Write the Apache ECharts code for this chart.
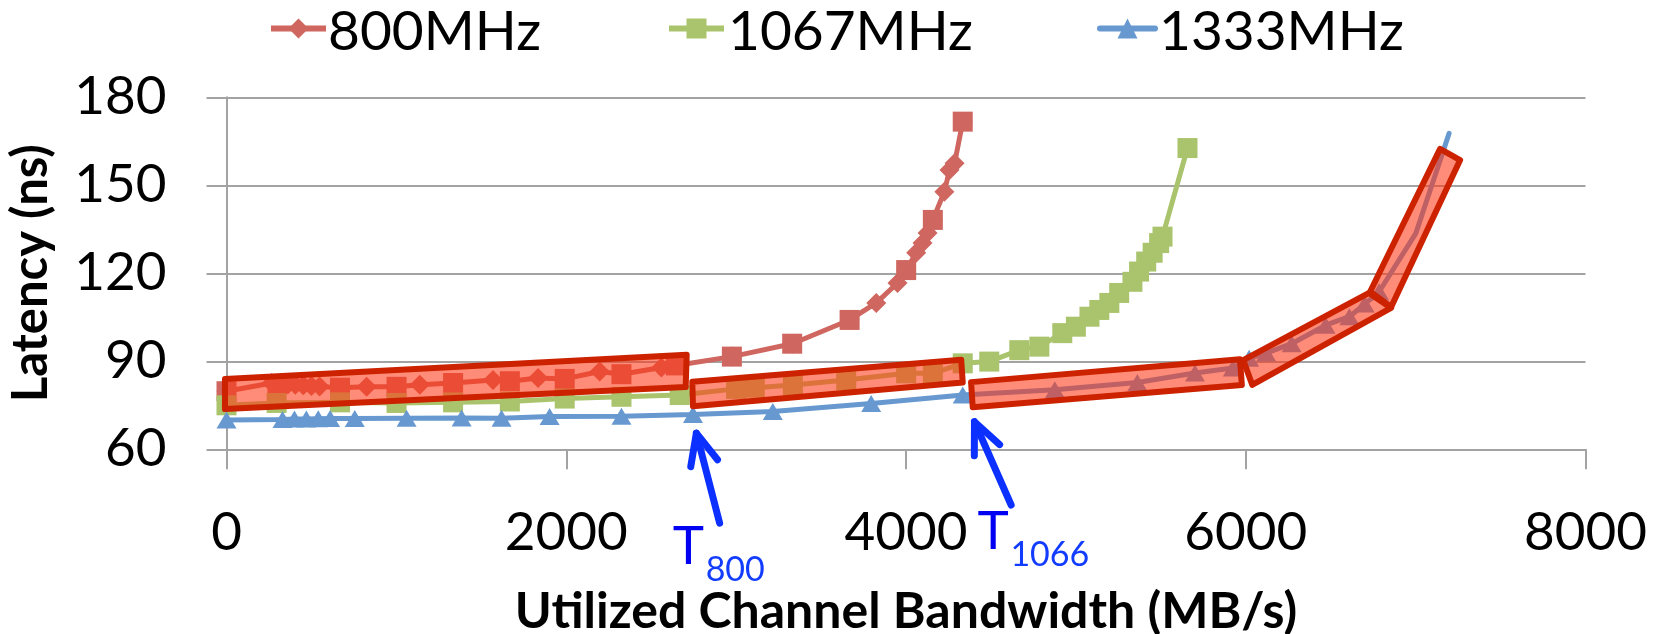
<!DOCTYPE html>
<html>
<head>
<meta charset="utf-8">
<script src="https://cdn.jsdelivr.net/npm/echarts@6/dist/echarts.min.js"></script>
<style>
  html, body { margin: 0; padding: 0; background: #ffffff; }
  #chart { width: 1666px; height: 634px; }
</style>
</head>
<body>
<div id="chart"></div>
<script>
// Loaded memory latency against utilized channel bandwidth at three DRAM bus frequencies.

const seriesNames = ['800MHz', '1067MHz', '1333MHz'];
const xTicks = [0, 2000, 4000, 6000, 8000];
const yTicks = [60, 90, 120, 150, 180];

// 800MHz, [bandwidth MB/s, latency ns], diamond-marked samples
const lat800 = [
  [266, 82.6], [318, 82.4], [362, 82.2], [405, 82.0], [452, 81.8], [500, 81.6], [548, 81.4],
  [825, 81.3], [1138, 82.0], [1569, 83.6], [1834, 84.3], [2197, 86.5], [2560, 87.9],
  [3825, 109.9], [3950, 116.7], [4060, 127.0], [4097, 130.3], [4127, 133.7],
  [4226, 147.8], [4256, 155.2], [4286, 157.5]
];
// 800MHz, fixed-rate sweep samples (square markers)
const lat800Sweep = [
  [0, 79.8], [300, 82.2], [668, 81.0], [1001, 81.3], [1334, 82.6], [1668, 83.2], [1991, 84.0],
  [2325, 85.6], [2645, 88.6], [2975, 91.6], [3330, 96.0], [3668, 104.1], [4001, 121.1],
  [4158, 138.2], [4334, 171.7]
];
// 1067MHz
const lat1067 = [
  [0, 75.0], [295, 75.8], [668, 76.0], [1001, 75.8], [1334, 76.0], [1668, 76.3], [1991, 77.3],
  [2325, 77.9], [2668, 78.5], [3000, 80.6], [3110, 81.0], [3334, 81.9], [3648, 83.6],
  [4001, 85.9], [4158, 85.9], [4334, 89.3], [4490, 89.9], [4667, 93.8], [4785, 95.0],
  [4920, 99.6], [5000, 101.8], [5080, 105.2], [5138, 107.5], [5197, 109.9], [5255, 113.3],
  [5333, 117.1], [5372, 120.6], [5414, 124.0], [5452, 127.0], [5490, 130.3], [5510, 132.5],
  [5657, 162.7]
];
// 1333MHz
const lat1333 = [
  [0, 70.0], [330, 70.2], [400, 70.3], [470, 70.3], [540, 70.4], [610, 70.5], [755, 70.5],
  [1060, 70.6], [1384, 70.7], [1619, 70.6], [1902, 71.2], [2325, 71.3], [2746, 71.9],
  [3216, 72.9], [3795, 75.6], [4334, 78.5], [4876, 80.3], [5362, 82.8], [5701, 86.0],
  [5924, 87.7], [6020, 91.0], [6120, 92.8], [6270, 96.0], [6470, 102.3], [6610, 105.2],
  [6700, 109.5], [6785, 113.7], [7001, 133.6], [7197, 167.7]
];

// Highlighted operating regions, polygon corners in [MB/s, ns]
const regionBoxes = [
  [[-9, 84.0], [2709, 92.2], [2703, 81.2], [-9, 73.7]],
  [[2742, 83.0], [4325, 90.5], [4334, 82.8], [2746, 74.7]],
  [[4383, 82.9], [5966, 90.7], [5977, 81.9], [4393, 74.3]],
  [[5985, 90.4], [6726, 113.3], [6856, 108.2], [6038, 82.0]],
  [[6732, 113.7], [7144, 162.4], [7262, 158.6], [6856, 108.5]]
];

// Saturation-threshold callouts: arrow tip, arrow tail, label corner, label subscript
const thresholdTips = [[2766, 65.5], [4403, 69.4]];
const thresholdTails = [[2903, 34.8], [4619, 41.0]];
const thresholdLabelAt = [[2638, 33.6], [4432, 38.7]];
const thresholdSubs = ['800', '1066'];

const FONT = 'Lato';
const RED = '#CF665F';
const GREEN = '#A9C46C';
const BLUE = '#6798D0';
const GRID_GRAY = '#A3A3A3';
const CALLOUT_BLUE = '#0B30FF';

const lat800Line = lat800.concat(lat800Sweep).sort((a, b) => a[0] - b[0]);

const chart = echarts.init(document.getElementById('chart'), null, { renderer: 'canvas', width: 1666, height: 634 });

const axisLineStyle = { color: GRID_GRAY, width: 2 };

// Legend layout: swatch left edge and caption left edge per series
const legendIconLefts = [268, 666, 1097];
const legendTextLefts = [328, 728, 1159];

const option = {
  animation: false,
  backgroundColor: '#ffffff',
  grid: { left: 226.5, top: 97.3, width: 1359, height: 352, outerBoundsMode: 'none', containLabel: false },
  legend: seriesNames.map((name, i) => ({
    data: [name],
    left: legendIconLefts[i],
    top: 16,
    padding: 0,
    itemWidth: 55,
    itemHeight: 25,
    selectedMode: false,
    lineStyle: { width: 6 },
    formatter: () => ''
  })),
  graphic: seriesNames.map((name, i) => ({
    type: 'text',
    left: legendTextLefts[i],
    top: 4.5,
    silent: true,
    style: { text: name, fontFamily: FONT, fontSize: 55, fill: '#000000' }
  })),
  xAxis: {
    type: 'value',
    min: xTicks[0],
    max: xTicks[xTicks.length - 1],
    interval: xTicks[1] - xTicks[0],
    name: 'Utilized Channel Bandwidth (MB/s)',
    nameLocation: 'middle',
    nameGap: 138,
    nameTextStyle: { fontFamily: FONT, fontWeight: 'bold', fontSize: 50, color: '#000000' },
    axisLine: { show: true, onZero: false, lineStyle: axisLineStyle },
    axisTick: { show: true, inside: false, length: 20, lineStyle: axisLineStyle },
    axisLabel: { fontFamily: FONT, fontSize: 53, color: '#000000', margin: 57, formatter: v => String(v) },
    splitLine: { show: false }
  },
  yAxis: {
    type: 'value',
    min: yTicks[0],
    max: yTicks[yTicks.length - 1],
    interval: yTicks[1] - yTicks[0],
    name: 'Latency (ns)',
    nameLocation: 'middle',
    nameRotate: 90,
    nameGap: 171,
    nameTextStyle: { fontFamily: FONT, fontWeight: 'bold', fontSize: 49, color: '#000000' },
    axisLine: { show: true, onZero: false, lineStyle: axisLineStyle },
    axisTick: { show: true, inside: false, length: 20, lineStyle: axisLineStyle },
    axisLabel: { fontFamily: FONT, fontSize: 53, color: '#000000', margin: 60, padding: [9, 0, 0, 0], formatter: v => String(v) },
    splitLine: { show: true, lineStyle: axisLineStyle }
  },
  series: [
    {
      name: seriesNames[0], type: 'line', data: lat800Line, z: 2,
      symbol: 'diamond', symbolSize: 20,
      itemStyle: { color: RED, borderWidth: 0, opacity: 1 },
      lineStyle: { color: RED, width: 5 }
    },
    {
      name: seriesNames[0] + ' sweep', type: 'scatter', data: lat800Sweep, z: 2,
      symbol: 'rect', symbolSize: 20,
      itemStyle: { color: RED, borderWidth: 0, opacity: 1 }
    },
    {
      name: seriesNames[1], type: 'line', data: lat1067, z: 3,
      symbol: 'rect', symbolSize: 20,
      itemStyle: { color: GREEN, borderWidth: 0, opacity: 1 },
      lineStyle: { color: GREEN, width: 5 }
    },
    {
      name: seriesNames[2], type: 'line', z: 4,
      data: lat1333.map((p, i) => (i >= lat1333.length - 2 ? { value: p, symbol: 'none' } : p)),
      symbol: 'triangle', symbolSize: [20, 17],
      itemStyle: { color: BLUE, borderWidth: 0, opacity: 1 },
      lineStyle: { color: BLUE, width: 5, cap: 'round' }
    },
    {
      name: 'regions', type: 'custom', coordinateSystem: 'cartesian2d', z: 10, silent: true, clip: false,
      data: regionBoxes.map(b => b[0]),
      encode: { x: 0, y: 1 },
      renderItem: (params, api) => ({
        type: 'polygon',
        shape: { points: regionBoxes[params.dataIndex].map(p => api.coord(p)) },
        style: { fill: 'rgba(255,57,22,0.58)', stroke: '#CC2200', lineWidth: 6, lineJoin: 'round' }
      })
    },
    {
      name: 'thresholds', type: 'custom', coordinateSystem: 'cartesian2d', z: 11, silent: true, clip: false,
      data: thresholdTips,
      encode: { x: 0, y: 1 },
      renderItem: (params, api) => {
        const i = params.dataIndex;
        const tip = api.coord(thresholdTips[i]);
        const tail = api.coord(thresholdTails[i]);
        const at = api.coord(thresholdLabelAt[i]);
        const ang = Math.atan2(tail[1] - tip[1], tail[0] - tip[0]);
        const headLen = 34;
        const spread = 24 * Math.PI / 180;
        const wing = s => [tip[0] + headLen * Math.cos(ang + s), tip[1] + headLen * Math.sin(ang + s)];
        const stroke = { stroke: CALLOUT_BLUE, lineWidth: 7, lineCap: 'round', lineJoin: 'round', fill: null };
        return {
          type: 'group',
          children: [
            { type: 'line', shape: { x1: tail[0], y1: tail[1], x2: tip[0], y2: tip[1] }, style: stroke },
            { type: 'polyline', shape: { points: [wing(spread), tip, wing(-spread)] }, style: stroke },
            { type: 'text', x: at[0] - 2, y: at[1] - 6.5,
              style: { text: 'T', fontFamily: FONT, fontSize: 53, fill: '#0000F2', align: 'left', verticalAlign: 'top' } },
            { type: 'text', x: at[0] + 31, y: at[1] + 26,
              style: { text: thresholdSubs[i], fontFamily: FONT, fontSize: 34, fill: '#123CFF', align: 'left', verticalAlign: 'top' } }
          ]
        };
      }
    }
  ]
};

chart.setOption(option);
</script>
</body>
</html>
